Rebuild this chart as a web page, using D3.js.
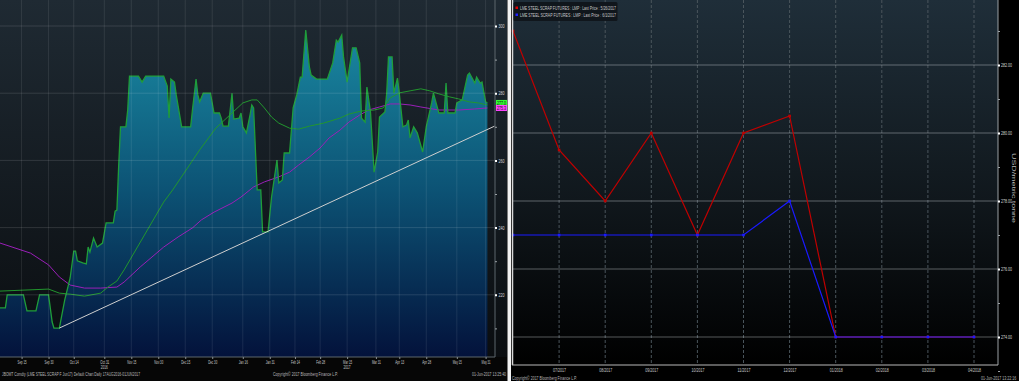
<!doctype html>
<html>
<head>
<meta charset="utf-8">
<script src="https://d3js.org/d3.v7.min.js"></script>
<style>
  body{margin:0;background:#000;}
  svg{display:block;}
  text{font-family:'Liberation Sans',Arial,sans-serif;}
</style>
</head>
<body>
<svg id="chart" width="1019" height="381"></svg>
<script>
// ---------- left chart: JBOMT daily price ----------
var priceDates = ['2016-09-03','2016-09-06','2016-09-07','2016-09-16','2016-09-18','2016-09-23','2016-09-25','2016-09-30',
  '2016-10-02','2016-10-03','2016-10-06','2016-10-09','2016-10-12','2016-10-14','2016-10-15','2016-10-16','2016-10-19',
  '2016-10-21','2016-10-22','2016-10-23','2016-10-25','2016-10-27','2016-10-30','2016-11-01','2016-11-05','2016-11-06',
  '2016-11-07','2016-11-08','2016-11-09','2016-11-12','2016-11-13','2016-11-14','2016-11-19','2016-11-21','2016-11-23',
  '2016-12-03','2016-12-05','2016-12-06','2016-12-07','2016-12-09','2016-12-10','2016-12-13','2016-12-18','2016-12-19',
  '2016-12-21','2016-12-22','2016-12-23','2016-12-25','2016-12-29','2016-12-31','2017-01-03','2017-01-04','2017-01-05',
  '2017-01-08','2017-01-10','2017-01-11','2017-01-14','2017-01-15','2017-01-16','2017-01-18','2017-01-20','2017-01-21',
  '2017-01-22','2017-01-24','2017-01-26','2017-01-27','2017-01-30','2017-02-01','2017-02-04','2017-02-05','2017-02-07',
  '2017-02-08','2017-02-11','2017-02-13','2017-02-15','2017-02-17','2017-02-18','2017-02-20','2017-02-22','2017-02-23',
  '2017-02-26','2017-03-04','2017-03-07','2017-03-09','2017-03-10','2017-03-12','2017-03-13','2017-03-15','2017-03-18',
  '2017-03-20','2017-03-22','2017-03-23','2017-03-25','2017-03-26','2017-03-28','2017-03-30','2017-04-01','2017-04-02',
  '2017-04-05','2017-04-06','2017-04-07','2017-04-09','2017-04-10','2017-04-12','2017-04-13','2017-04-15','2017-04-17',
  '2017-04-18','2017-04-19','2017-04-21','2017-04-23','2017-04-26','2017-04-28','2017-05-01','2017-05-02','2017-05-05',
  '2017-05-08','2017-05-09','2017-05-10','2017-05-14','2017-05-15','2017-05-18','2017-05-21','2017-05-22','2017-05-25',
  '2017-05-26','2017-05-28','2017-05-29','2017-05-31','2017-06-01'];
var priceValues = [216.1,216.1,220.0,220.0,215.2,215.2,220.0,220.0,
  211.9,210.1,210.1,218.5,225.0,233.0,233.0,230.1,229.5,
  229.2,234.2,232.7,236.9,234.2,235.4,241.4,241.4,244.9,
  245.2,258.6,270.0,270.0,275.0,285.1,285.1,283.3,285.1,
  285.1,282.1,272.6,284.2,283.3,279.5,270.0,270.0,275.0,
  284.2,279.5,277.4,280.0,280.0,274.1,274.1,272.6,270.2,
  270.2,280.0,272.3,272.6,274.1,270.0,268.2,273.5,276.5,
  275.6,251.2,251.2,238.7,238.7,249.1,260.1,253.3,254.2,
  262.2,262.2,275.6,279.5,284.8,284.8,298.8,287.8,285.4,
  284.2,284.2,289.0,295.8,295.2,297.3,290.8,283.3,293.5,
  293.5,289.0,272.6,271.4,281.8,274.4,256.5,262.5,272.9,
  274.4,280.0,290.8,290.8,280.0,284.5,280.0,270.0,270.5,
  272.0,266.7,270.0,268.2,262.5,270.0,277.1,280.0,274.1,
  274.1,283.0,274.1,274.1,277.1,278.0,285.4,286.0,283.0,
  284.8,283.0,283.3,277.4,277.1];

// short moving average (green)
var maShortDates = ['2016-09-03','2016-09-30','2016-10-06','2016-10-12','2016-10-20','2016-10-29','2016-11-02','2016-11-07',
  '2016-11-11','2016-11-22','2016-12-03','2016-12-08','2016-12-23','2017-01-01','2017-01-10','2017-01-16','2017-01-21',
  '2017-01-24','2017-01-28','2017-02-01','2017-02-05','2017-02-11','2017-02-16','2017-02-22','2017-03-02','2017-03-11',
  '2017-03-16','2017-03-23','2017-03-30','2017-04-04','2017-04-08','2017-04-13','2017-04-19','2017-04-25','2017-04-30',
  '2017-05-05','2017-05-11','2017-05-16','2017-05-22','2017-05-27','2017-06-01'];
var maShortValues = [221.1,221.7,220.5,220.2,219.6,220.5,222.3,224.1,
  227.4,237.5,247.6,251.2,263.1,269.6,274.1,277.1,278.0,
  278.0,275.6,272.9,271.1,269.6,269.3,270.2,271.1,272.6,
  273.8,274.7,275.0,275.6,278.6,280.1,280.7,281.3,280.7,
  279.8,278.9,278.3,277.4,277.1,276.5];

// long moving average (magenta)
var maLongDates = ['2016-09-03','2016-09-20','2016-09-30','2016-10-06','2016-10-12','2016-10-20','2016-10-29','2016-11-07',
  '2016-11-11','2016-11-20','2016-12-03','2016-12-11','2016-12-19','2016-12-24','2016-12-31','2017-01-10','2017-01-15',
  '2017-01-22','2017-01-28','2017-02-05','2017-02-11','2017-02-16','2017-02-22','2017-02-28','2017-03-05','2017-03-11',
  '2017-03-16','2017-03-22','2017-03-27','2017-04-02','2017-04-08','2017-04-13','2017-04-19','2017-04-25','2017-05-05',
  '2017-05-16','2017-05-25','2017-06-01'];
var maLongValues = [235.4,232.4,228.9,225.3,222.9,222.0,222.0,222.3,
  223.8,228.3,234.2,237.2,239.9,242.3,244.6,247.3,249.1,
  252.1,253.6,255.1,256.5,258.6,261.0,263.7,266.7,269.0,
  271.4,273.5,275.0,275.9,276.8,276.8,276.5,275.9,275.0,
  275.0,275.3,275.6];

// trend line through the two lows
var trendDates = ['2016-10-06','2017-06-05'];
var trendValues = [210.1, 270.2];

var leftTickDates = ['2016-09-15','2016-09-30','2016-10-14','2016-10-31','2016-11-15','2016-11-30','2016-12-15',
  '2016-12-30','2017-01-16','2017-01-31','2017-02-14','2017-02-28','2017-03-15','2017-03-31','2017-04-13',
  '2017-04-28','2017-05-15','2017-05-31'];
var leftTickLabels = ['Sep 15','Sep 30','Oct 14','Oct 31','Nov 15','Nov 30','Dec 15','Dec 30','Jan 16','Jan 31',
  'Feb 14','Feb 28','Mar 15','Mar 31','Apr 13','Apr 28','May 15','May 31'];
var yearDates = ['2016-10-31','2017-03-15'];
var yearLabels = ['2016','2017'];
var leftYTicks = [220,240,260,280,300];
var leftYMinor = [210,230,250,270,290];
var lastTags = ['277.0','275.3'];

// ---------- right chart: LME steel scrap futures curve ----------
var months = ['06/2017','07/2017','08/2017','09/2017','10/2017','11/2017','12/2017','01/2018','02/2018','03/2018','04/2018'];
var curve0526 = [283.0,279.5,278.0,280.0,277.0,280.0,280.5,274.0,274.0,274.0,274.0];
var curve0601 = [277.0,277.0,277.0,277.0,277.0,277.0,278.0,274.0,274.0,274.0,274.0];
var rightYTicks = [274,276,278,280,282];
var rightYMinor = [273,275,277,279,281,283];
var legendLabels = ['LME STEEL SCRAP FUTURES : LMP : Last Price : 5/26/2017',
                    'LME STEEL SCRAP FUTURES : LMP : Last Price : 6/1/2017'];

var parse = d3.timeParse('%Y-%m-%d');
var svg = d3.select('#chart');
var defs = svg.append('defs');

function vgrad(id, y1, y2, stops){
  var g = defs.append('linearGradient').attr('id',id).attr('gradientUnits','userSpaceOnUse')
    .attr('x1',0).attr('x2',0).attr('y1',y1).attr('y2',y2);
  stops.forEach(function(s){ g.append('stop').attr('offset',s[0]).attr('stop-color',s[1]); });
}
vgrad('lbg',0,357,[[0,'#1f2a33'],[1,'#0a0d10']]);
vgrad('larea',26,357,[[0,'#1a8aa3'],[0.5,'#0c5274'],[1,'#03123b']]);
vgrad('rbg',0,365,[[0,'#1f2e39'],[0.55,'#10171c'],[1,'#000']]);

function txt(g, x, y, s, len, size, fill){
  return g.append('text').attr('x',x).attr('y',y).text(s)
    .attr('textLength',len).attr('lengthAdjust','spacingAndGlyphs')
    .style('font-size',(size||5)+'px').attr('fill',fill||'#c8c8c8');
}

svg.append('rect').attr('width',1019).attr('height',381).attr('fill','#060606');

// ================= LEFT =================
var L = svg.append('g');
L.append('rect').attr('width',507).attr('height',357).attr('fill','url(#lbg)');

var lx = d3.scaleTime().domain([parse('2016-09-03'), parse('2017-06-03')]).range([0, 491]);
var ly = d3.scaleLinear().domain([220,300]).range([294.8, 26]);

defs.append('clipPath').attr('id','lclip').append('rect').attr('width',490).attr('height',357);

function series(ds, vs){ return ds.map(function(d,i){ return {date:parse(d), value:vs[i]}; }); }
var price = series(priceDates, priceValues);
var maS = series(maShortDates, maShortValues);
var maL = series(maLongDates, maLongValues);
var trend = series(trendDates, trendValues);

var line = d3.line().x(function(d){return lx(d.date);}).y(function(d){return ly(d.value);});
var area = d3.area().x(function(d){return lx(d.date);}).y0(357).y1(function(d){return ly(d.value);});

var plot = L.append('g').attr('clip-path','url(#lclip)');
plot.append('path').datum(price).attr('d',area).attr('fill','url(#larea)');

// grid on top of the fill
L.selectAll('line.hg').data(leftYTicks).enter().append('line').attr('class','hg')
  .attr('x1',0).attr('x2',495).attr('y1',function(d){return ly(d);}).attr('y2',function(d){return ly(d);})
  .attr('stroke','rgba(255,255,255,0.12)');
L.selectAll('line.vg').data(leftTickDates).enter().append('line').attr('class','vg')
  .attr('x1',function(d){return lx(parse(d));}).attr('x2',function(d){return lx(parse(d));})
  .attr('y1',0).attr('y2',357).attr('stroke','rgba(255,255,255,0.09)');

plot.append('path').datum(maL).attr('d',line).attr('fill','none').attr('stroke','#9a1fb8').attr('stroke-width',1);
plot.append('path').datum(maS).attr('d',line).attr('fill','none').attr('stroke','#22962e').attr('stroke-width',1);
plot.append('path').datum(price).attr('d',line).attr('fill','none').attr('stroke','#1f9d3a').attr('stroke-width',1.3);
L.append('path').datum(trend).attr('d',line).attr('fill','none').attr('stroke','#cfcfcf').attr('stroke-width',1);

// right value axis
L.append('line').attr('x1',495).attr('x2',495).attr('y1',0).attr('y2',357).attr('stroke','#5d666c');
var gly = L.append('g').attr('transform','translate(495,0)')
  .call(d3.axisRight(ly).tickValues(leftYTicks).tickSize(2).tickSizeOuter(0).tickFormat(d3.format('d')));
gly.select('.domain').remove();
gly.selectAll('.tick line').attr('stroke','#fff').attr('stroke-width',2);
gly.selectAll('.tick text').attr('x',3.5).attr('dy','0.35em').attr('fill','#d8d8d8')
  .style('font-size','5px').attr('textLength',6).attr('lengthAdjust','spacingAndGlyphs');
var glm = L.append('g').attr('transform','translate(495,0)')
  .call(d3.axisRight(ly).tickValues(leftYMinor).tickSize(2).tickSizeOuter(0).tickFormat(''));
glm.select('.domain').remove();
glm.selectAll('.tick line').attr('stroke','#9aa0a4');

// last value tags
var tagColors = ['#33ff33','#ff44ff'];
[priceValues[priceValues.length-1], maLongValues[maLongValues.length-1]].forEach(function(v,i){
  var y = ly(v);
  L.append('rect').attr('x',496).attr('y',y-3).attr('width',11).attr('height',6).attr('fill',tagColors[i]);
  txt(L, 497, y+2, lastTags[i], 9, 4.5, '#111');
});

// bottom time axis
L.append('line').attr('x1',0).attr('x2',495).attr('y1',357).attr('y2',357).attr('stroke','#5d666c');
var glx = L.append('g').attr('transform','translate(0,357)')
  .call(d3.axisBottom(lx).tickValues(leftTickDates.map(parse)).tickSize(2).tickSizeOuter(0)
    .tickFormat(function(d,i){return leftTickLabels[i];}));
glx.select('.domain').remove();
glx.selectAll('.tick line').attr('stroke','#8a9094');
glx.selectAll('.tick text').attr('y',7).attr('dy',0).attr('fill','#c8c8c8')
  .style('font-size','5px').attr('textLength',9).attr('lengthAdjust','spacingAndGlyphs');
yearDates.forEach(function(d,i){ txt(L, lx(parse(d)) - 3.5, 368.5, yearLabels[i], 7, 5, '#c8c8c8'); });

txt(L, 2, 375.5, 'JBOMT Comdty (LME STEEL SCRAP F Jun17) Default Chart  Daily 17AUG2016-01JUN2017', 138, 5, '#b8b8b8');
txt(L, 273, 375.5, 'Copyright\u00a9 2017 Bloomberg Finance L.P.', 65, 5, '#b8b8b8');
txt(L, 472, 375.5, '01-Jun-2017 13:25:40', 34, 5, '#b8b8b8');

// divider
svg.append('rect').attr('x',507.5).attr('y',0).attr('width',3.5).attr('height',381).attr('fill','#f2f2f2');

// ================= RIGHT =================
var R = svg.append('g');
R.append('rect').attr('x',511).attr('y',0).attr('width',508).attr('height',381).attr('fill','#000');
R.append('rect').attr('x',512).attr('y',0).attr('width',486).attr('height',365).attr('fill','url(#rbg)');

var rx = d3.scalePoint().domain(months).range([513, 974]);
var ry = d3.scaleLinear().domain([274,282]).range([337, 65]);

R.selectAll('line.rv').data(months.slice(1)).enter().append('line').attr('class','rv')
  .attr('x1',function(d){return rx(d);}).attr('x2',function(d){return rx(d);})
  .attr('y1',0).attr('y2',365).attr('stroke','#4a555c').attr('stroke-dasharray','3,2');
R.selectAll('line.rh').data(rightYTicks).enter().append('line').attr('class','rh')
  .attr('x1',512).attr('x2',998).attr('y1',function(d){return ry(d);}).attr('y2',function(d){return ry(d);})
  .attr('stroke','rgba(200,205,210,0.42)').attr('stroke-width',1.2);

var rline = d3.line().x(function(d,i){return rx(months[i]);}).y(function(d){return ry(d);});
[[curve0526,'#c00000'],[curve0601,'#1a1aff']].forEach(function(s){
  R.append('path').datum(s[0]).attr('d',rline).attr('fill','none').attr('stroke',s[1]).attr('stroke-width',1.2);
  R.selectAll(null).data(s[0]).enter().append('rect')
    .attr('x',function(d,i){return rx(months[i])-1.3;}).attr('y',function(d){return ry(d)-1.3;})
    .attr('width',2.6).attr('height',2.6).attr('fill',s[1]);
});

// axes frame
R.append('line').attr('x1',512.5).attr('x2',512.5).attr('y1',0).attr('y2',365).attr('stroke','#d8d8d8').attr('stroke-width',1.5);
R.append('line').attr('x1',998).attr('x2',998).attr('y1',0).attr('y2',365).attr('stroke','#9aa0a4');
R.append('line').attr('x1',512).attr('x2',998).attr('y1',365).attr('y2',365).attr('stroke','#b8b8b8');

var gry = R.append('g').attr('transform','translate(998,0)')
  .call(d3.axisRight(ry).tickValues(rightYTicks).tickSize(2).tickSizeOuter(0).tickFormat(d3.format('.2f')));
gry.select('.domain').remove();
gry.selectAll('.tick line').attr('stroke','#fff').attr('stroke-width',2);
gry.selectAll('.tick text').attr('x',3).attr('dy','0.35em').attr('fill','#d8d8d8')
  .style('font-size','5px').attr('textLength',11).attr('lengthAdjust','spacingAndGlyphs');
var grm = R.append('g').attr('transform','translate(998,0)')
  .call(d3.axisRight(ry).tickValues(rightYMinor).tickSize(2).tickSizeOuter(0).tickFormat(''));
grm.select('.domain').remove();
grm.selectAll('.tick line').attr('stroke','#9aa0a4');

var grx = R.append('g').attr('transform','translate(0,365)')
  .call(d3.axisBottom(rx).tickSize(0).tickSizeOuter(0).tickFormat(function(d,i){return i===0?'':d;}));
grx.select('.domain').remove();
grx.selectAll('.tick text').attr('y',7).attr('dy',0).attr('fill','#c8c8c8')
  .style('font-size','5px').attr('textLength',13).attr('lengthAdjust','spacingAndGlyphs');

R.append('text').attr('transform','translate(1012,153) rotate(90)').text('USD/metric tonne')
  .attr('textLength',70).attr('lengthAdjust','spacingAndGlyphs').style('font-size','6px').attr('fill','#b8b8b8');

// legend
R.append('rect').attr('x',513.5).attr('y',2).attr('width',104).attr('height',19).attr('rx',1.5)
  .attr('fill','#0f151a').attr('opacity',0.92);
[['#e00000',0],['#2020ff',1]].forEach(function(c){
  var y = 8 + c[1]*7;
  R.append('rect').attr('x',515.5).attr('y',y-1.5).attr('width',2.5).attr('height',2.5).attr('fill',c[0]);
  txt(R, 520, y+1.8, legendLabels[c[1]], 96, 5, '#c8c8c8');
});

txt(R, 512, 379.5, 'Copyright\u00a9 2017 Bloomberg Finance L.P.', 65, 5, '#b8b8b8');
// timestamp squeezed with a transform so its real box stays inside the page
R.append('text').attr('transform','translate(981,379.5) scale(0.72,1)').text('01-Jun-2017 13:22:16')
  .style('font-size','5px').attr('fill','#b8b8b8');
</script>
</body>
</html>
